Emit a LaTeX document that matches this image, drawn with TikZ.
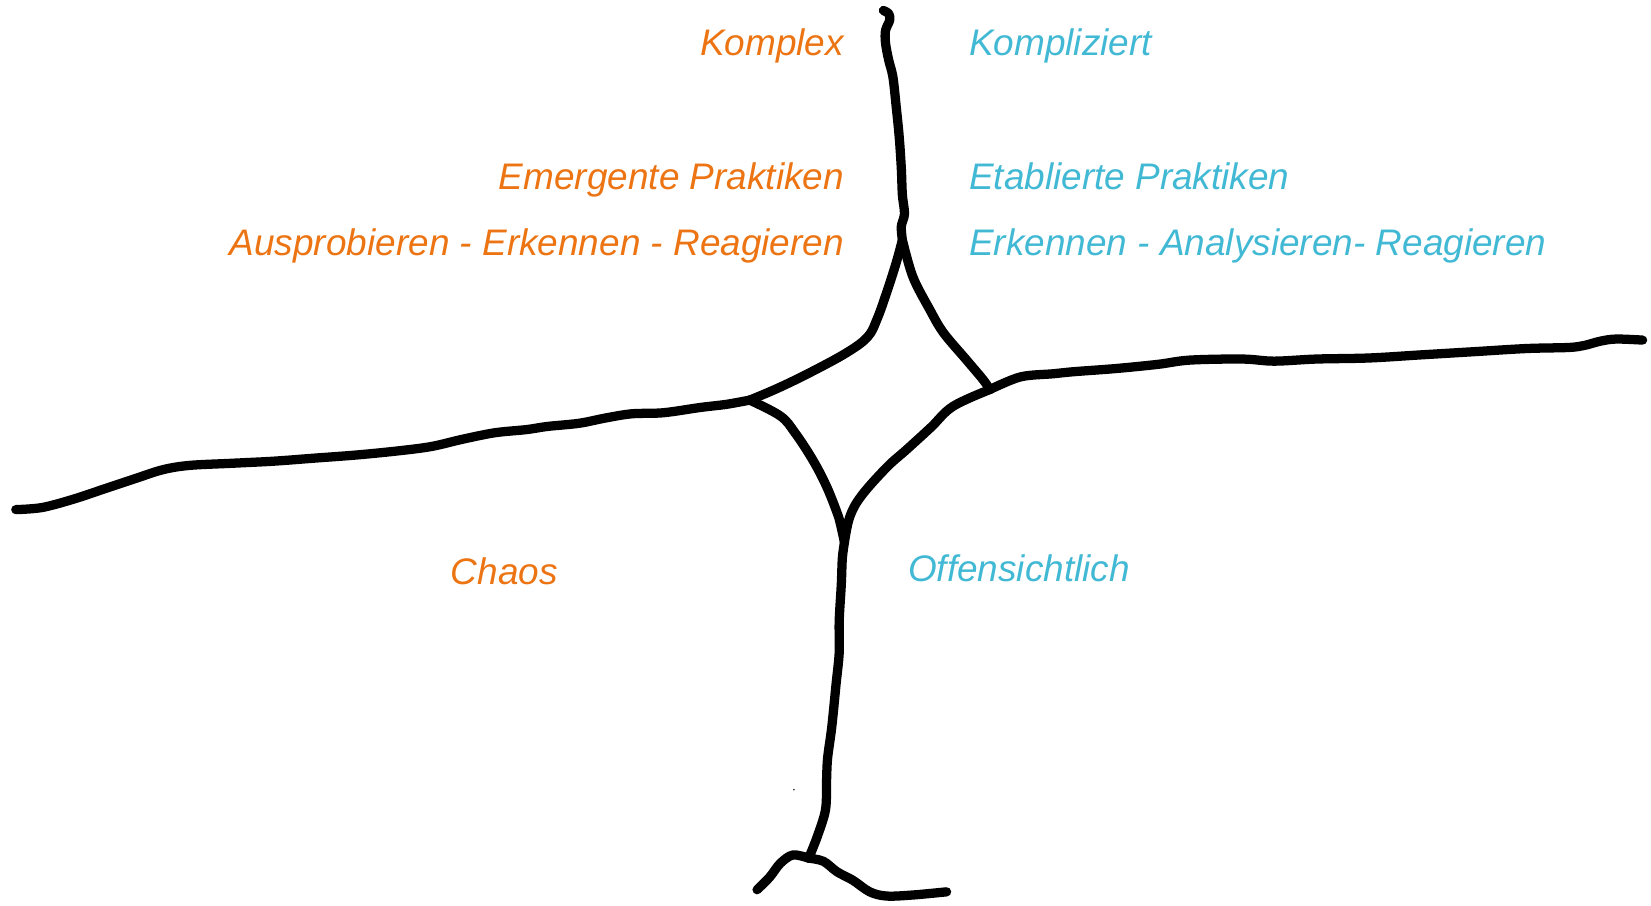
\documentclass[tikz,border=0pt]{standalone}
\usepackage{fontspec}
\setmainfont{Liberation Sans}
\definecolor{cynorange}{RGB}{236,116,18}
\definecolor{cyncyan}{RGB}{66,185,212}

\begin{document}
\begin{tikzpicture}[x=0.5pt, y=-0.5pt,
    stroke/.style={line width=4.4pt, line cap=round, line join=round, black},
    lbl/.style={inner sep=0pt, font=\fontsize{17.55}{21}\selectfont\itshape},
    lbleft/.style={lbl, anchor=base east, text=cynorange},
    lbright/.style={lbl, anchor=base west, text=cyncyan}]
        \useasboundingbox (0,0) rectangle (1568,860);

        % Junctions
        \coordinate (jtop) at (857,228);
        \coordinate (jleft) at (712,380);
        \coordinate (jright) at (940,370);
        \coordinate (jbottom) at (802,515);
        \coordinate (jfoot) at (768,815);

        % Top stem
        \draw[stroke] plot[smooth, tension=0.55] coordinates {(839,10) (844,13) (845,19) (841,29) (841,41) (844,57) (848,73) (851,100) (854,130) (856,160) (857,185) (859,203) (856,215) (jtop)};

        % Diamond
        \draw[stroke] plot[smooth, tension=0.6] coordinates {(jtop) (851,250) (842,278) (833,303) (824,320) (804,335) (769,354) (738,369) (jleft)};
        \draw[stroke] plot[smooth, tension=0.55] coordinates {(jtop) (867,263) (883,294) (896,316) (918,342) (934,361) (jright)};
        \draw[stroke] plot[smooth, tension=0.6] coordinates {(jleft) (741,395) (755,411) (772,437) (785,462) (795,487) (798,497) (jbottom)};
        \draw[stroke] plot[smooth, tension=0.6] coordinates {(jright) (905,386) (884,406) (861,427) (842,444) (818,471) (807,491) (jbottom)};

        % Horizontal strokes
        \draw[stroke] plot[smooth, tension=0.55] coordinates {(15,484) (40,482) (70,474) (100,464) (130,454) (155,446) (180,442) (220,440) (260,438) (300,435) (340,432) (380,428) (410,424) (440,417) (470,411) (500,408) (520,405) (550,402) (575,397) (600,393) (630,392) (665,387) (690,384) (jleft)};
        \draw[stroke] plot[smooth, tension=0.55] coordinates {(jright) (969,358) (1000,355) (1020,353) (1060,350) (1100,346) (1130,342) (1180,341) (1210,343) (1250,341) (1300,340) (1350,337) (1400,334) (1450,331) (1490,330) (1505,328) (1520,324) (1535,322) (1560,323)};

        % Bottom stem and foot
        \draw[stroke] plot[smooth, tension=0.55] coordinates {(jbottom) (800,530) (799,555) (797,590) (797,620) (794,650) (790,690) (786,720) (785,741) (784,769) (776,795) (jfoot)};
        \draw[stroke] plot[smooth, tension=0.55] coordinates {(jfoot) (753,812) (741,820) (731,833) (719,845)};
        \draw[stroke] plot[smooth, tension=0.55] coordinates {(jfoot) (782,818) (795,828) (810,836) (826,847) (842,851) (867,850) (899,847)};
        \fill (754,750) circle (0.8);

        % Labels
        \node[lbleft] (komplex) at (802,53) {Komplex};
        \node[lbleft] (emergent) at (802,180) {Emergente Praktiken};
        \node[lbleft] (probieren) at (802,243) {Ausprobieren - Erkennen - Reagieren};
        \node[lbleft] (chaos) at (530,555) {Chaos};

        \node[lbright] (kompliziert) at (920,53) {Kompliziert};
        \node[lbright] (etabliert) at (920,180) {Etablierte Praktiken};
        \node[lbright] (analyse) at (920,243) {Erkennen - Analysieren- Reagieren};
        \node[lbright] (offen) at (862,552) {Offensichtlich};
\end{tikzpicture}
\end{document}
